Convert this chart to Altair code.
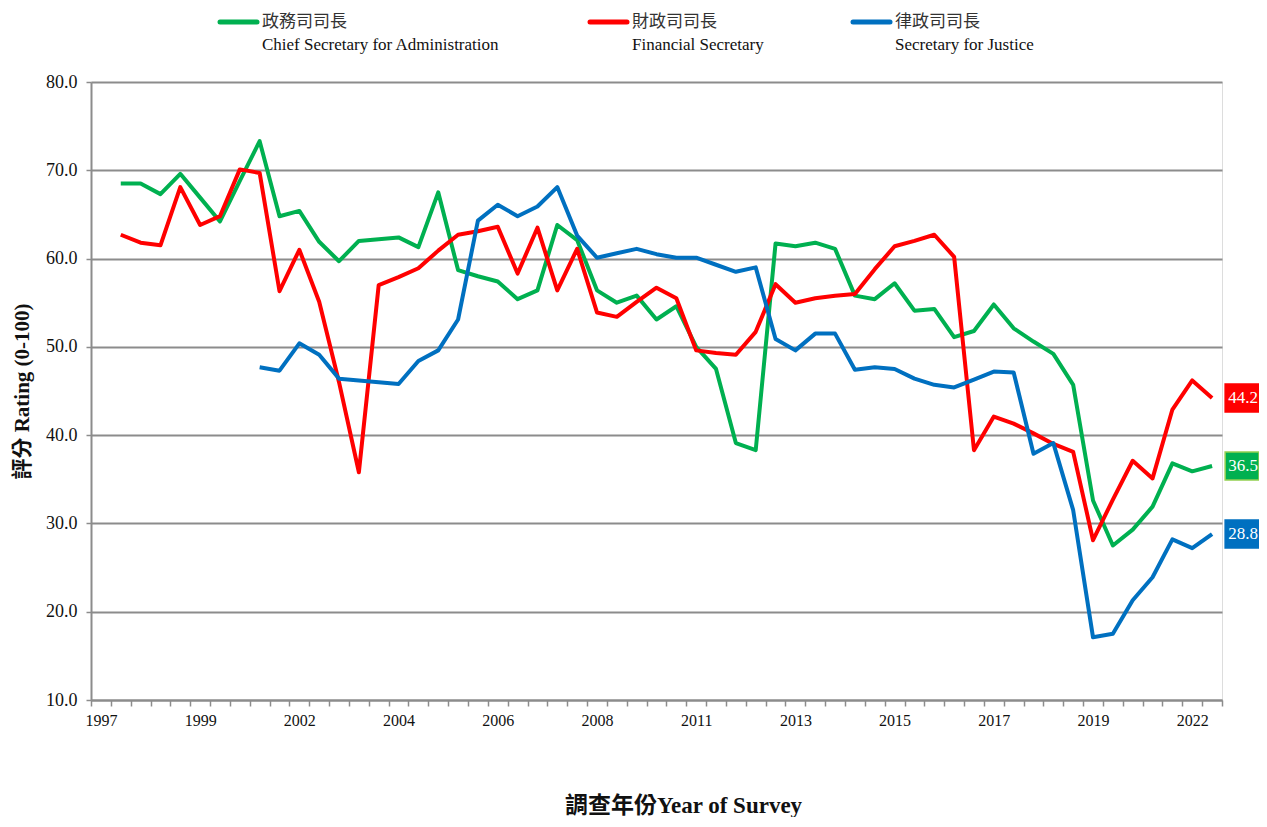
import json
import altair as alt
import pandas as pd

# ---------------- data ----------------
series_keys = ["cs", "fs", "sj"]
series_zh = ["政務司司長", "財政司司長", "律政司司長"]
series_en = ["Chief Secretary for Administration", "Financial Secretary", "Secretary for Justice"]
series_colors = ["#00B050", "#FF0000", "#0070C0"]
box_strokes = ["#92D050", "#FF0000", "#0070C0"]

# tick labels, one every 5 survey rounds (round 0, 5, 10, ...)
year_labels = ["1997", "1999", "2002", "2004", "2006", "2008",
               "2011", "2013", "2015", "2017", "2019", "2022"]

# survey rounds 0..56 (round 0 has no data)
cs_values = [None, 68.5, 68.5, 67.3, 69.6, 66.9, 64.2, 68.8, 73.3, 64.8, 65.4,
             61.9, 59.7, 62.0, 62.2, 62.4, 61.3, 67.5, 58.7, 58.0, 57.4,
             55.4, 56.4, 63.8, 62.1, 56.4, 55.0, 55.8, 53.1, 54.6, 50.0,
             47.5, 39.1, 38.3, 61.7, 61.4, 61.8, 61.1, 55.8, 55.4, 57.2,
             54.1, 54.3, 51.1, 51.8, 54.8, 52.1, 50.6, 49.2, 45.7, 32.6,
             27.5, 29.3, 31.9, 36.8, 35.9, 36.5]
fs_values = [None, 62.7, 61.8, 61.5, 68.1, 63.8, 64.8, 70.1, 69.7, 56.3, 61.0,
             55.1, 46.0, 35.8, 57.0, 57.9, 58.9, 60.9, 62.7, 63.1, 63.6,
             58.3, 63.5, 56.4, 61.1, 53.9, 53.4, 55.1, 56.7, 55.5, 49.6,
             49.3, 49.1, 51.7, 57.1, 55.0, 55.5, 55.8, 56.0, 58.8, 61.4,
             62.0, 62.7, 60.2, 38.3, 42.1, 41.3, 40.2, 39.0, 38.1, 28.1,
             32.7, 37.1, 35.1, 42.9, 46.2, 44.2]
sj_values = [None, None, None, None, None, None, None, None,
             47.7, 47.3, 50.4, 49.1, 46.4, 46.2, 46.0, 45.8, 48.4, 49.6,
             53.1, 64.3, 66.1, 64.8, 65.9, 68.1, 62.6, 60.1, 60.6, 61.1,
             60.5, 60.1, 60.1, 59.3, 58.5, 59.0, 50.9, 49.6, 51.5, 51.5,
             47.4, 47.7, 47.5, 46.4, 45.7, 45.4, 46.3, 47.2, 47.1, 37.9,
             39.1, 31.5, 17.1, 17.5, 21.3, 23.9, 28.2, 27.2, 28.8]

rows = []
for key, vals in zip(series_keys, [cs_values, fs_values, sj_values]):
    for i, v in enumerate(vals):
        if v is not None:
            rows.append({"series": key, "idx": i, "value": v})
df = pd.DataFrame(rows)
last = df.loc[df.groupby("series")["idx"].idxmax()].reset_index(drop=True)

n_cat = len(cs_values)  # 57 categories

# ---------------- styling ----------------
SERIF = "Liberation Serif, Noto Sans CJK TC"
GRAY = "#8C8C8C"
W, H = 1131, 618
half_cat = W / n_cat / 2.0

years_js = json.dumps(year_labels)
label_expr = (
    f"((datum.value + 0.5) % 5 == 0 && datum.value < {n_cat - 1}) ? "
    f"{years_js}[round((datum.value + 0.5) / 5)] : ''"
)

x_scale = alt.Scale(domain=[-0.5, n_cat - 0.5], nice=False, zero=False)
y_scale = alt.Scale(domain=[10, 80], nice=False, zero=False)
color_scale = alt.Scale(domain=series_keys, range=series_colors)

x_axis = alt.Axis(
    values=[k - 0.5 for k in range(n_cat + 1)],
    labelExpr=label_expr,
    labelOffset=half_cat,
    labelOverlap=False,
    labelFlush=False,
    labelBound=False,
    labelPadding=6,
    labelFont=SERIF,
    labelFontSize=16,
    labelColor="#111111",
    grid=False,
    domainColor=GRAY,
    domainWidth=2,
    tickColor=GRAY,
    tickWidth=1.5,
    tickSize=6,
    title="調查年份Year of Survey",
    titleFont=SERIF,
    titleFontSize=23,
    titleFontWeight="bold",
    titleColor="#111111",
    titleX=592,
    titleY=105,
    titleAlign="center",
    titleBaseline="middle",
)
y_axis = alt.Axis(
    values=list(range(10, 81, 10)),
    format=".1f",
    grid=True,
    gridColor=GRAY,
    gridWidth=2,
    domainColor=GRAY,
    domainWidth=2,
    tickColor=GRAY,
    tickWidth=1.5,
    tickSize=5,
    labelPadding=9,
    labelFont=SERIF,
    labelFontSize=18,
    labelColor="#111111",
    title="評分 Rating (0-100)",
    titleFont=SERIF,
    titleFontSize=21,
    titleFontWeight="bold",
    titleColor="#111111",
    titleAngle=270,
    titleX=-69,
    titleY=309,
    titleAlign="center",
    titleBaseline="middle",
)

X = alt.X("idx:Q", scale=x_scale, axis=x_axis)
Y = alt.Y("value:Q", scale=y_scale, axis=y_axis)

lines = alt.Chart(df).mark_line(strokeWidth=4, strokeJoin="round").encode(
    x=X,
    y=Y,
    color=alt.Color("series:N", scale=color_scale, legend=None),
    order=alt.Order("idx:Q"),
)

boxes = alt.Chart(last).mark_point(
    shape="M-1.21,-1L1.21,-1L1.21,1L-1.21,1Z",
    filled=True,
    opacity=1,
    size=784,
    xOffset=30,
    strokeWidth=1.5,
).encode(
    x=X,
    y=Y,
    color=alt.Color("series:N", scale=color_scale, legend=None),
    stroke=alt.Stroke("series:N", scale=alt.Scale(domain=series_keys, range=box_strokes), legend=None),
)

box_text = alt.Chart(last).mark_text(
    dx=31, align="center", baseline="middle",
    font="Liberation Serif", fontSize=17, color="white",
).encode(
    x=X,
    y=Y,
    text=alt.Text("value:Q", format=".1f"),
)

# ---------------- legend (drawn above the plot) ----------------
legend_line_x = [129, 499, 762]
legend_layers = []
for i, key in enumerate(series_keys):
    item = pd.DataFrame({"series": [key], "zh": [series_zh[i]], "en": [series_en[i]]})
    x0 = legend_line_x[i]
    legend_layers.append(
        alt.Chart(item).mark_rule(strokeWidth=5, strokeCap="round").encode(
            x=alt.value(x0), x2=alt.value(x0 + 37), y=alt.value(-60),
            color=alt.value(series_colors[i]),
        )
    )
    legend_layers.append(
        alt.Chart(item).mark_text(
            align="left", baseline="middle", font="Noto Sans CJK TC",
            fontSize=17, color="#333333",
        ).encode(x=alt.value(x0 + 42), y=alt.value(-60), text="zh:N")
    )
    legend_layers.append(
        alt.Chart(item).mark_text(
            align="left", baseline="middle", font="Liberation Serif",
            fontSize=17, color="#111111",
        ).encode(x=alt.value(x0 + 42), y=alt.value(-37), text="en:N")
    )

chart = alt.layer(lines, boxes, box_text, *legend_layers).properties(
    width=W,
    height=H,
    autosize=alt.AutoSizeParams(type="none"),
    padding={"left": 83, "top": 74, "right": 37, "bottom": 117},
).configure_view(stroke=None).configure_axisX(labelOverlap=False).configure(background="white")

chart.save("out.html", embed_options={"renderer": "svg", "actions": False})
